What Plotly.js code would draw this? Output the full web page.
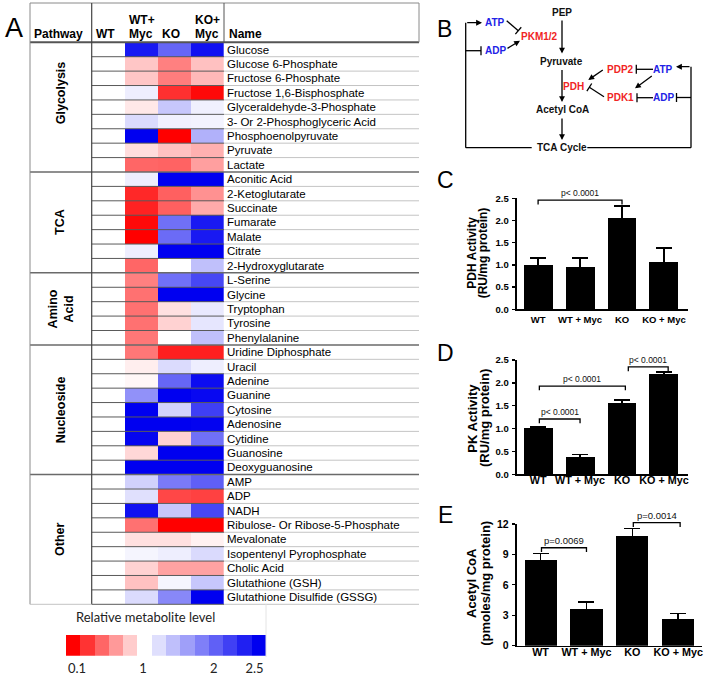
<!DOCTYPE html>
<html><head><meta charset="utf-8">
<script src="https://cdn.plot.ly/plotly-3.0.1.min.js"></script>
<style>html,body{margin:0;padding:0;background:#fff}#chart{width:704px;height:679px}</style>
</head><body><div id="chart"></div>
<script>
// ================= DATA =================
// Panel A: relative metabolite levels (WT = 1)
const conditionHeaders = [['WT'], ['WT+', 'Myc'], ['KO'], ['KO+', 'Myc']];
const pathways = ['Glycolysis', 'TCA', 'Amino<br>Acid', 'Nucleoside', 'Other'];
const pathwayRowCounts = [9, 7, 5, 9, 9];
const metabolites = ['Glucose','Glucose 6-Phosphate','Fructose 6-Phosphate','Fructose 1,6-Bisphosphate','Glyceraldehyde-3-Phosphate','3- Or 2-Phosphoglyceric Acid','Phosphoenolpyruvate','Pyruvate','Lactate',
  'Aconitic Acid','2-Ketoglutarate','Succinate','Fumarate','Malate','Citrate','2-Hydroxyglutarate',
  'L-Serine','Glycine','Tryptophan','Tyrosine','Phenylalanine',
  'Uridine Diphosphate','Uracil','Adenine','Guanine','Cytosine','Adenosine','Cytidine','Guanosine','Deoxyguanosine',
  'AMP','ADP','NADH','Ribulose- Or Ribose-5-Phosphate','Mevalonate','Isopentenyl Pyrophosphate','Cholic Acid','Glutathione (GSH)','Glutathione Disulfide (GSSG)'];
const levelWT    = [1,1,1,1,1,1,1,1,1, 1,1,1,1,1,1,1, 1,1,1,1,1, 1,1,1,1,1,1,1,1,1, 1,1,1,1,1,1,1,1,1];
const levelWTMyc = [2.35,0.80,0.80,1.10,0.92,1.21,2.50,0.88,0.46, 1.10,0.24,0.22,0.13,0.10,1.10,0.46, 0.55,0.50,0.50,0.50,0.52, 0.52,0.94,0.97,1.65,2.50,2.50,2.47,0.86,2.50, 1.27,1.18,2.40,0.50,0.89,1.06,0.84,0.78,1.21];
const levelKO    = [1.90,0.55,0.54,0.27,1.33,1.08,0.10,0.78,0.45, 2.50,0.44,0.44,1.84,1.87,2.50,1.00, 1.84,2.50,0.89,0.84,1.00, 0.21,1.21,1.90,2.50,1.27,2.50,0.84,2.50,2.50, 1.78,0.35,1.33,0.10,0.89,1.10,0.67,1.06,1.70];
const levelKOMyc = [2.40,0.78,0.75,0.13,1.09,1.07,1.46,0.72,0.66, 2.50,0.61,0.70,2.35,2.35,2.50,1.37, 2.08,2.50,1.13,1.15,1.37, 0.21,1.10,2.43,2.45,2.13,2.48,1.84,2.50,2.50, 1.94,0.33,2.08,0.10,0.95,1.22,0.67,1.33,2.50];
const legendLevels = [0.1,0.28,0.46,0.64,0.82,1,1.1875,1.375,1.5625,1.75,1.9375,2.125,2.3125,2.5];
const legendTickText = ['0.1','1','2','2.5'];

// Panels C-E
const barCategories = ['WT','WT + Myc','KO','KO + Myc'];
const pdhMean = [1.00, 0.95, 2.06, 1.06];
const pdhErr  = [0.15, 0.21, 0.27, 0.32];
const pkMean  = [1.01, 0.38, 1.56, 2.20];
const pkErr   = [0.03, 0.05, 0.06, 0.04];
const acoaMean = [8.5, 3.6, 10.8, 2.6];
const acoaErr  = [0.6, 0.7, 0.76, 0.56];
const pdhPText = ['p< 0.0001'];
const pkPText  = ['p< 0.0001','p< 0.0001','p< 0.0001'];
const acoaPText = ['p=0.0069','p=0.0014'];

// ================= LAYOUT HELPERS =================
const W = 704, H = 679;
const px = x => x / W, py = y => 1 - y / H;
const FONT = 'Arial, Liberation Sans, sans-serif';
const shapes = [], annotations = [];
function line(x0, y0, x1, y1, color, width) {
  shapes.push({type:'line', xref:'paper', yref:'paper', x0:px(x0), y0:py(y0), x1:px(x1), y1:py(y1),
    line:{color:color||'#000', width:width||1.3}, layer:'above'});
}
function text(x, y, t, size, opts) {
  annotations.push(Object.assign({xref:'paper', yref:'paper', x:px(x), y:py(y), text:t, showarrow:false,
    xanchor:'center', yanchor:'middle', font:{family:FONT, size:size, color:'#000'}}, opts||{}));
}
function arrow(tx, ty, hx, hy) {
  annotations.push({xref:'paper', yref:'paper', x:px(hx), y:py(hy), ax:tx-hx, ay:ty-hy, axref:'pixel', ayref:'pixel',
    text:'', showarrow:true, arrowhead:2, arrowsize:0.9, arrowwidth:1.3, arrowcolor:'#000', standoff:0, startstandoff:0});
}
function inhibit(tx, ty, hx, hy) {
  line(tx, ty, hx, hy);
  const dx = hx - tx, dy = hy - ty, L = Math.hypot(dx, dy);
  const nx = -dy / L * 4.5, ny = dx / L * 4.5;
  line(hx - nx, hy - ny, hx + nx, hy + ny);
}

// ================= PANEL A: TABLE =================
const colL = 91.7, colR = 224, rowT = 42.3, rowB = 604.3, tblL = 30, tblR = 419, tblT = 3;
const nRows = metabolites.length;
const zTable = metabolites.map((m, i) => [levelWT[i], levelWTMyc[i], levelKO[i], levelKOMyc[i]]);
const colorscale = [[0,'#ff0000'],[0.375,'#ffffff'],[1,'#0000f0']];

const traces = [];
traces.push({type:'heatmap', z:zTable, x:[0,1,2,3], y:metabolites.map((m,i)=>i), xaxis:'x', yaxis:'y',
  colorscale:colorscale, zmin:0.1, zmax:2.5, showscale:false, hoverinfo:'skip'});
traces.push({type:'heatmap', z:[legendLevels], x:legendLevels.map((v,i)=>i), y:[0], xaxis:'x2', yaxis:'y2',
  colorscale:colorscale, zmin:0.1, zmax:2.5, showscale:false, hoverinfo:'skip'});

// table lines
let boundaries = [], acc = 0;
pathwayRowCounts.forEach(n => { acc += n; boundaries.push(acc - 0.5); });
for (let i = 0; i < nRows - 1; i++) {
  const yb = i + 0.5;
  if (boundaries.includes(yb)) {
    shapes.push({type:'line', xref:'paper', yref:'y', x0:px(tblL), x1:px(tblR), y0:yb, y1:yb, line:{color:'#6a6a6a', width:1.5}, layer:'above'});
  } else {
    shapes.push({type:'line', xref:'paper', yref:'y', x0:px(colL), x1:px(colR), y0:yb, y1:yb, line:{color:'#5a5a5a', width:1}, layer:'above'});
    shapes.push({type:'line', xref:'paper', yref:'y', x0:px(colR), x1:px(tblR), y0:yb, y1:yb, line:{color:'#c4c4c4', width:1}, layer:'above'});
  }
}
line(tblL, tblT, tblR, tblT, '#8a8a8a', 1);
line(tblL, rowT, tblR, rowT, '#555', 2);
line(tblL, tblT, tblL, rowB, '#8a8a8a', 1);
line(colL, tblT, colL, rowB, '#444', 1.2);
line(colR, tblT, colR, rowT, '#555', 1);
line(tblR, tblT, tblR, rowT, '#8a8a8a', 1);
line(tblL, rowB, colL, rowB, '#c4c4c4', 1);
line(colL, rowB, colR, rowB, '#5a5a5a', 1);
line(colR, rowB, tblR, rowB, '#c4c4c4', 1);
line(266, rowB, 266, 657, '#e4e4e4', 1);

// headers
const hdrFont = 12;
const hdrOpts = {xanchor:'left', font:{family:FONT, size:hdrFont, weight:'bold', color:'#000'}};
text(31.5, 33.5, 'Pathway', hdrFont, hdrOpts);
text(colR + 2.5, 33.5, 'Name', hdrFont, hdrOpts);
const colW = (colR - colL) / 4;
conditionHeaders.forEach((h, j) => {
  const xl = colL + j * colW + 1.8;
  const ys = h.length === 1 ? [33.5] : [20.2, 33.8];
  h.forEach((t, k) => text(xl, ys[k], t, hdrFont, hdrOpts));
});
// pathway labels
let start = 0;
pathways.forEach((p, g) => {
  const n = pathwayRowCounts[g];
  const yc = g === 0 ? start + 3 : start + (n - 1) / 2;
  annotations.push({xref:'paper', yref:'y', x:px(60.5), y:yc, text:p, showarrow:false, textangle:-90,
    xanchor:'center', yanchor:'middle', font:{family:FONT, size:12.5, weight:'bold', color:'#000'}});
  start += n;
});
text(13.5, 28, 'A', 27);
text(145, 617, 'Relative metabolite level', 13, {font:{family:'Lato, sans-serif', size:13, color:'#222'}});

// ================= PANEL B: DIAGRAM =================
const BLUE = '#2222e6', RED = '#f02424';
const bText = (x, y, t, c) => text(x, y, t, 10, {font:{family:FONT, size:10, weight:'bold', color:c}});
text(444.5, 29, 'B', 23);
bText(561.7, 12.3, 'PEP', '#111');
bText(561.7, 61.7, 'Pyruvate', '#111');
bText(562, 110, 'Acetyl CoA', '#111');
bText(561.7, 147.7, 'TCA Cycle', '#111');
bText(495, 22.7, 'ATP', BLUE);
bText(495, 50.7, 'ADP', BLUE);
bText(539.5, 36.7, 'PKM1/2', RED);
bText(620.7, 69.3, 'PDP2', RED);
bText(663.3, 69.3, 'ATP', BLUE);
bText(573.3, 86, 'PDH', RED);
bText(620.7, 97.7, 'PDK1', RED);
bText(663, 97.7, 'ADP', BLUE);
arrow(562, 19, 562, 53.5);
arrow(562, 68.5, 562, 102);
arrow(562, 117, 562, 140);
line(531.7, 147.7, 465.7, 147.7); line(465.7, 147.7, 465.7, 22.7); arrow(465.7, 22.7, 482, 22.7);
inhibit(465.7, 50.7, 481, 50.7);
line(587.3, 147.7, 691, 147.7); line(691, 147.7, 691, 66.7); arrow(691, 66.7, 676, 66.7);
inhibit(691, 97.5, 676.5, 97.5);
inhibit(653, 69.3, 636.3, 69.3);
inhibit(653, 97.7, 637, 97.7);
arrow(653.3, 75, 635, 88.3);
arrow(604.3, 69, 588.3, 80);
inhibit(604, 96.7, 589.3, 87.3);
inhibit(506.7, 20.7, 518.3, 30.7);
arrow(506, 49.3, 520, 40.7);

// ================= PANELS C-E: BARS =================
const panels = [
  {id:'3', letter:'C', letterY:180, xPx:[516.7, 688.3], yPx:[198.3, 309.3], xr:[-0.51, 3.58], yr:[0, 2.5], dtick:0.5, fmt:'.1f',
   mean:pdhMean, err:pdhErr, bw:0.69, xt:9.5, yt:9.5, xso:1, title:['PDH Activity','(RU/mg protein)'], tf:12, tx:[471.7, 483.3], ty:253,
   brackets:[[0, 2, 2.46]], ptext:pdhPText, pf:8.5},
  {id:'4', letter:'D', letterY:352.5, xPx:[516.7, 688.3], yPx:[360, 474.3], xr:[-0.51, 3.58], yr:[0, 2.5], dtick:0.5, fmt:'.1f',
   mean:pkMean, err:pkErr, bw:0.69, xt:10.8, yt:9.5, xso:-5, title:['PK Activity','(RU/mg protein)'], tf:13, tx:[471.7, 484], ty:418,
   brackets:[[0.03, 1, 1.21], [0.03, 2.08, 1.93], [2.15, 3.1, 2.35]], ptext:pkPText, pf:8.5},
  {id:'5', letter:'E', letterY:515, xPx:[516.7, 701.7], yPx:[524, 645.7], xr:[-0.52, 3.51], yr:[0, 12], dtick:3, fmt:'d',
   mean:acoaMean, err:acoaErr, bw:0.7, xt:10.8, yt:10.5, xso:-4, title:['Acetyl CoA','(pmoles/mg protein)'], tf:13, tx:[471.7, 485.5], ty:583.3,
   brackets:[[0.02, 1, 9.66], [2.02, 3.04, 12.13]], ptext:acoaPText, pf:9.5}
];
const layoutAxes = {};
panels.forEach(p => {
  traces.push({type:'bar', x:barCategories, y:p.mean, width:p.bw, xaxis:'x'+p.id, yaxis:'y'+p.id,
    marker:{color:'#000', line:{width:0}}, hoverinfo:'skip',
    error_y:{type:'data', array:p.err, visible:true, color:'#000', thickness:1.6, width:8}});
  layoutAxes['xaxis'+p.id] = {domain:[px(p.xPx[0]), px(p.xPx[1])], range:p.xr, anchor:'y'+p.id, type:'category',
    showline:true, linecolor:'#000', linewidth:1.5, ticks:'', ticklen:0, showgrid:false, zeroline:false,
    tickfont:{family:FONT, size:p.xt, weight:'bold', color:'#000'}, ticklabelstandoff:p.xso};
  layoutAxes['yaxis'+p.id] = {domain:[py(p.yPx[1]), py(p.yPx[0])], range:p.yr, anchor:'x'+p.id,
    showline:true, linecolor:'#000', linewidth:1.5, ticks:'outside', ticklen:3.5, tickwidth:1.3, tickcolor:'#000',
    dtick:p.dtick, tick0:0, tickformat:p.fmt, showgrid:false, zeroline:false,
    tickfont:{family:FONT, size:p.yt, weight:'bold', color:'#000'}, ticklabelstandoff:1};
  const toX = v => p.xPx[0] + (v - p.xr[0]) / (p.xr[1] - p.xr[0]) * (p.xPx[1] - p.xPx[0]);
  const toY = v => p.yPx[1] - (v - p.yr[0]) / (p.yr[1] - p.yr[0]) * (p.yPx[1] - p.yPx[0]);
  p.brackets.forEach((b, k) => {
    const x0 = toX(b[0]), x1 = toX(b[1]), yb = toY(b[2]);
    shapes.push({type:'path', xref:'paper', yref:'paper',
      path:`M ${px(x0)},${py(yb+4.3)} L ${px(x0)},${py(yb)} L ${px(x1)},${py(yb)} L ${px(x1)},${py(yb+4.3)}`,
      line:{color:'#000', width:1.3}, layer:'above'});
    text((x0 + x1) / 2, yb - p.pf * 0.6 - 1.5, p.ptext[k], p.pf, {font:{family:FONT, size:p.pf, color:'#111'}});
  });
  p.title.forEach((t, k) => annotations.push({xref:'paper', yref:'paper', x:px(p.tx[k]), y:py(p.ty), text:t, textangle:-90,
    showarrow:false, xanchor:'center', yanchor:'middle', font:{family:FONT, size:p.tf, weight:'bold', color:'#000'}}));
  text(445, p.letterY, p.letter, 23);
});

const layout = Object.assign({
  width:W, height:H, margin:{l:0, r:0, t:0, b:0}, paper_bgcolor:'#fff', plot_bgcolor:'rgba(0,0,0,0)',
  showlegend:false, bargap:0,
  xaxis:{domain:[px(colL), px(colR)], range:[-0.5, 3.5], anchor:'y', showticklabels:false, ticks:'', showgrid:false, zeroline:false, showline:false},
  yaxis:{domain:[py(rowB), py(rowT)], range:[nRows - 0.5, -0.5], anchor:'x', side:'right',
    tickvals:metabolites.map((m,i)=>i), ticktext:metabolites, ticks:'', showgrid:false, zeroline:false, showline:false,
    tickfont:{family:FONT, size:11.5, color:'#000'}, ticklabelstandoff:2},
  xaxis2:{domain:[px(66), px(266)], range:[-0.5, legendLevels.length - 0.5], anchor:'y2',
    tickvals:[0.27, 4.9, 9.85, 12.7], ticktext:legendTickText, ticks:'', showgrid:false, zeroline:false, showline:false,
    tickfont:{family:'Lato, sans-serif', size:13, color:'#222'}, ticklabelstandoff:3},
  yaxis2:{domain:[py(655.7), py(635)], range:[-0.5, 0.5], anchor:'x2', showticklabels:false, ticks:'', showgrid:false, zeroline:false, showline:false},
  shapes:shapes, annotations:annotations
}, layoutAxes);

Plotly.newPlot('chart', traces, layout, {staticPlot:true, displayModeBar:false});
</script>
</body></html>
